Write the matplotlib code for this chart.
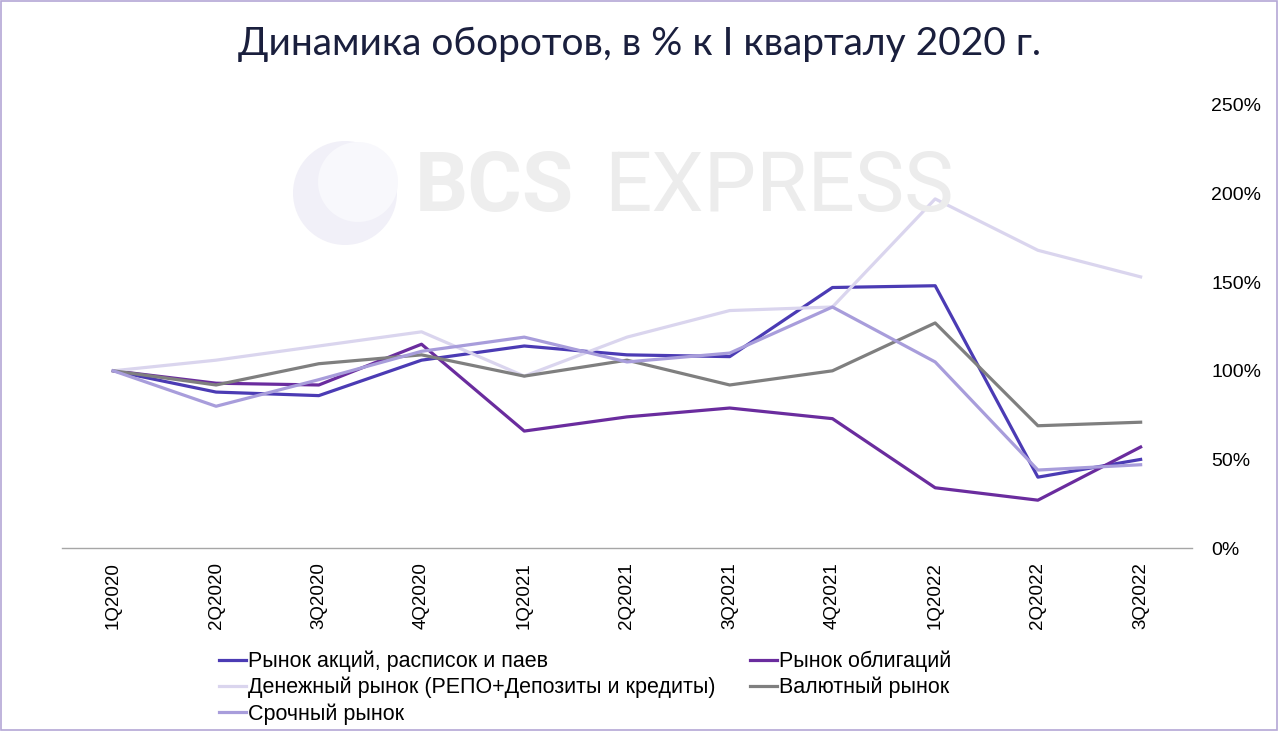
import matplotlib
matplotlib.use('Agg')
from matplotlib import pyplot as plt
from matplotlib.patches import Rectangle, Circle
import numpy as np

quarters = ['1Q2020', '2Q2020', '3Q2020', '4Q2020', '1Q2021', '2Q2021',
            '3Q2021', '4Q2021', '1Q2022', '2Q2022', '3Q2022']

stocks = [100, 88, 86, 106, 114, 109, 108, 147, 148, 40, 50]
bonds = [100, 93, 92, 115, 66, 74, 79, 73, 34, 27, 57]
money = [100, 106, 114, 122, 97, 119, 134, 136, 197, 168, 153]
fx = [100, 92, 104, 109, 97, 106, 92, 100, 127, 69, 71]
futures = [100, 80, 95, 111, 119, 105, 110, 136, 105, 44, 47]

labels = ['Рынок акций, расписок и паев', 'Рынок облигаций',
          'Денежный рынок (РЕПО+Депозиты и кредиты)', 'Валютный рынок',
          'Срочный рынок']
colors = ['#4B3BB4', '#6A2C9E', '#DAD5EE', '#7F7F7F', '#A89DDB']

plt.rcParams['font.family'] = ['Liberation Sans', 'DejaVu Sans']

fig = plt.figure(figsize=(12.78, 7.31), dpi=100)
ax = fig.add_axes([0.0485, 0.2503, 0.8842, 0.6061])

# watermark
fig.patches.append(Circle((3.45, 7.31 - 1.93), 0.52, transform=fig.dpi_scale_trans,
                          facecolor='#F1F0F8', edgecolor='none', zorder=0))
fig.patches.append(Circle((3.58, 7.31 - 1.82), 0.40, transform=fig.dpi_scale_trans,
                          facecolor='#F8F8FC', edgecolor='none', zorder=0))
fig.text(415 / 1278, 1 - 188 / 731, 'BCS', fontsize=60, fontweight='bold', color='#EEEEEE',
         ha='left', va='center', zorder=0, family=['Roboto', 'DejaVu Sans'])
fig.text(604 / 1278, 1 - 188 / 731, 'EXPRESS', fontsize=60, color='#ECECEC',
         ha='left', va='center', zorder=0, family=['Roboto', 'DejaVu Sans'])
ax.set_facecolor('none')

x = np.arange(len(quarters))
series = [stocks, bonds, money, fx, futures]
lines = []
for s, c, l in zip(series, colors, labels):
    ln, = ax.plot(x, s, color=c, lw=2.3, label=l)
    lines.append(ln)

ax.set_xlim(-0.5, len(quarters) - 0.5)
ax.set_ylim(0, 250)
ax.set_yticks([0, 50, 100, 150, 200, 250])
ax.set_yticklabels(['0%', '50%', '100%', '150%', '200%', '250%'])
ax.yaxis.tick_right()
ax.tick_params(axis='y', length=0, labelsize=14, pad=14)
ax.set_xticks(x)
ax.set_xticklabels(quarters, rotation=90, fontsize=13.5)
ax.tick_params(axis='x', length=0, pad=10)
for sp in ['top', 'left', 'right']:
    ax.spines[sp].set_visible(False)
ax.spines['bottom'].set_color('#A6A6A6')
ax.spines['bottom'].set_linewidth(1)

order = [0, 2, 4, 1, 3]
fig.legend([lines[i] for i in order], [labels[i] for i in order],
           loc='upper left', bbox_to_anchor=(0.1645, 1 - 642 / 731), ncol=2,
           frameon=False, fontsize=15.5, handlelength=1.25, handletextpad=0.1,
           columnspacing=1.6, labelspacing=0.22, borderaxespad=0)

fig.text(0.5, 1 - 44 / 731, 'Динамика оборотов, в % к I кварталу 2020 г.',
         ha='center', va='center', fontsize=28, color='#1A1F3D',
         family=['Lato', 'DejaVu Sans'])

fig.patches.append(Rectangle((0.0004, 0.0007), 0.9992, 0.9986, transform=fig.transFigure,
                             fill=False, edgecolor='#B4A7D6', lw=1.2))

plt.savefig('out.png', dpi=100)
